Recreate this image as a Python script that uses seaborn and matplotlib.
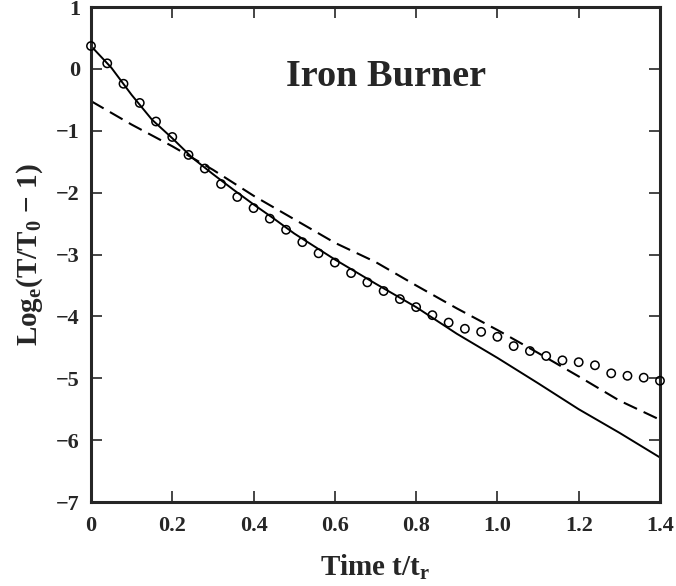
import numpy as np
import pandas as pd
import matplotlib
matplotlib.use('Agg')
import matplotlib.pyplot as plt
import seaborn as sns

# ── Data ───────────────────────────────────────────────
obs_t = [0.00, 0.04, 0.08, 0.12, 0.16, 0.20, 0.24, 0.28, 0.32, 0.36, 0.40, 0.44,
         0.48, 0.52, 0.56, 0.60, 0.64, 0.68, 0.72, 0.76, 0.80, 0.84, 0.88, 0.92,
         0.96, 1.00, 1.04, 1.08, 1.12, 1.16, 1.20, 1.24, 1.28, 1.32, 1.36, 1.40]
obs_y = [0.37, 0.09, -0.24, -0.55, -0.85, -1.10, -1.39, -1.61, -1.86, -2.07, -2.25, -2.42,
         -2.60, -2.80, -2.98, -3.13, -3.30, -3.45, -3.59, -3.72, -3.85, -3.98, -4.10, -4.20,
         -4.25, -4.33, -4.48, -4.56, -4.64, -4.71, -4.74, -4.79, -4.92, -4.96, -4.99, -5.04]

solid_t = [0.0, 0.05, 0.1, 0.15, 0.2, 0.25, 0.3, 0.35, 0.4, 0.45, 0.5,
           0.6, 0.7, 0.8, 0.9, 1.0, 1.1, 1.2, 1.3, 1.4]
solid_y = [0.37, 0.02, -0.42, -0.82, -1.12, -1.44, -1.70, -1.95, -2.19, -2.42, -2.66,
           -3.08, -3.47, -3.85, -4.28, -4.67, -5.08, -5.50, -5.88, -6.28]

dash_t = [0.0, 0.1, 0.2, 0.3, 0.4, 0.5, 0.6, 0.7, 0.8, 0.9, 1.0, 1.1, 1.2, 1.3, 1.4]
dash_y = [-0.52, -0.90, -1.25, -1.63, -2.05, -2.43, -2.81, -3.12, -3.50, -3.87,
          -4.22, -4.59, -4.97, -5.36, -5.67]

x_ticks = [0, 0.2, 0.4, 0.6, 0.8, 1.0, 1.2, 1.4]
x_labels = ['0', '0.2', '0.4', '0.6', '0.8', '1.0', '1.2', '1.4']
y_ticks = [1, 0, -1, -2, -3, -4, -5, -6, -7]

# ── Style ──────────────────────────────────────────────
sns.set_style('ticks')
plt.rcParams['font.family'] = ['Liberation Serif', 'DejaVu Serif']
plt.rcParams['font.weight'] = 'bold'
plt.rcParams['mathtext.fontset'] = 'custom'
plt.rcParams['mathtext.rm'] = 'Liberation Serif:bold'
plt.rcParams['mathtext.it'] = 'Liberation Serif:bold'
plt.rcParams['mathtext.bf'] = 'Liberation Serif:bold'

fig = plt.figure(figsize=(6.76, 5.86), dpi=100)
ax = fig.add_axes([0.1346, 0.1433, 0.8417, 0.8447])

sns.lineplot(x=solid_t, y=solid_y, ax=ax, color='black', linewidth=1.4)
sns.lineplot(x=dash_t, y=dash_y, ax=ax, color='black', linewidth=1.5)
ax.lines[-1].set_dashes([7, 3.5])
sns.scatterplot(x=obs_t, y=obs_y, ax=ax, marker='o', s=36,
                facecolor='none', edgecolor='black', linewidth=1.1,
                clip_on=False, zorder=5)

ax.set_xlim(0, 1.4)
ax.set_ylim(-7, 1)
ax.set_xticks(x_ticks)
ax.set_xticklabels(x_labels)
ax.set_yticks(y_ticks)

for s in ax.spines.values():
    s.set_linewidth(2.2)
    s.set_visible(True)
ax.tick_params(direction='in', length=8, width=1.2, top=True, right=True,
               labelsize=16, pad=8)
ax.tick_params(axis='x', pad=10)
for lab in ax.get_xticklabels() + ax.get_yticklabels():
    lab.set_fontweight('bold')

ax.set_xlabel('Time t/t$_{\\rm r}$', fontsize=21, fontweight='bold', labelpad=12)
ax.set_ylabel('Log$_{\\rm e}$(T/T$_{\\rm 0}$ \u2212 1)', fontsize=21,
              fontweight='bold', labelpad=8)

ax.text(0.726, -0.275, 'Iron Burner', fontsize=27.5, fontweight='bold',
        ha='center', va='baseline')

fig.savefig('out.png', dpi=100)
